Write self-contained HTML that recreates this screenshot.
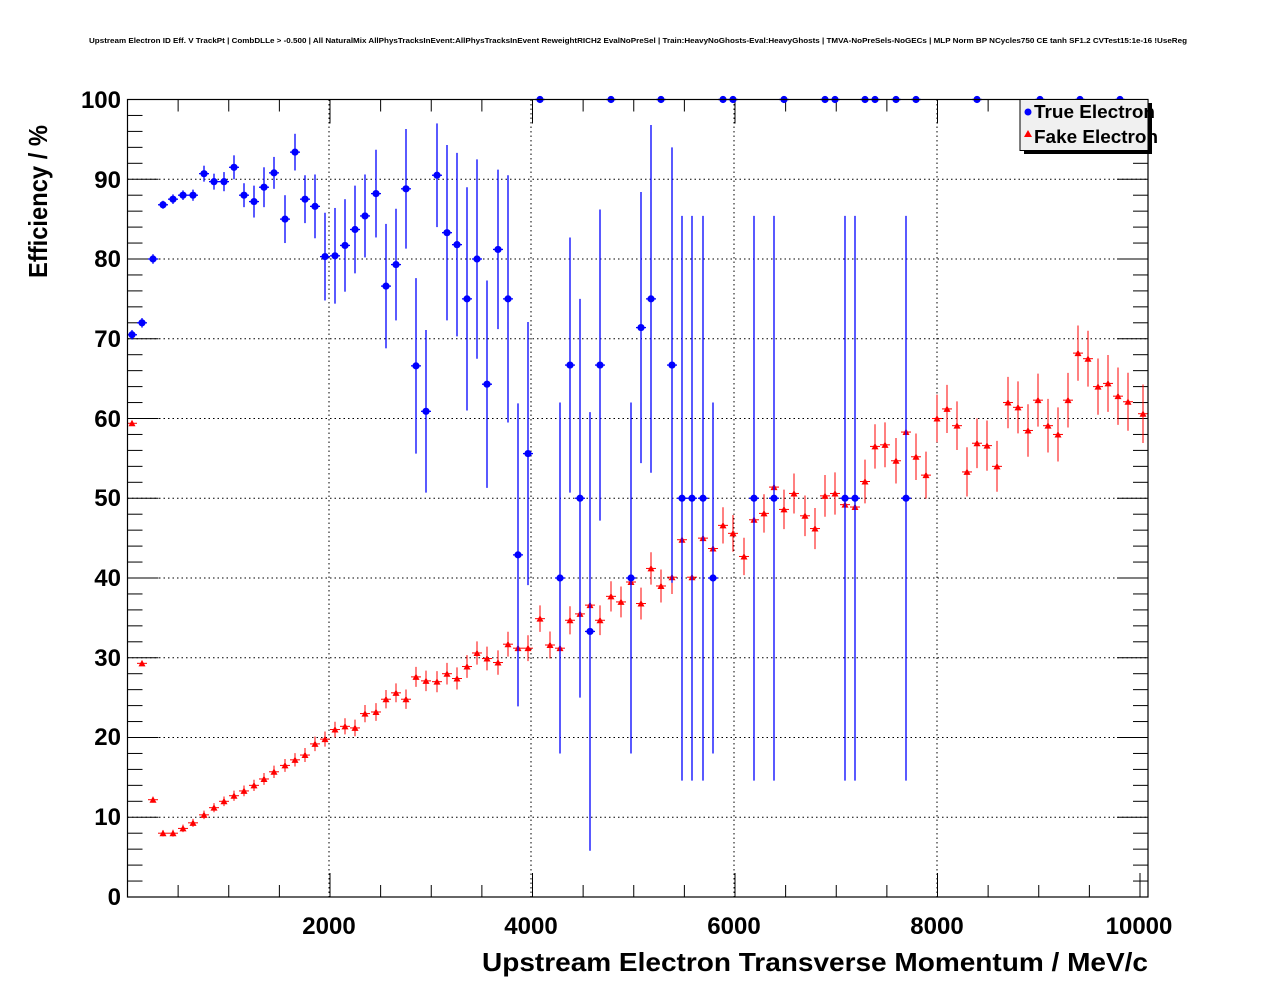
<!DOCTYPE html>
<html><head><meta charset="utf-8"><style>
html,body{margin:0;padding:0;background:#fff;}
svg{display:block;font-family:"Liberation Sans",sans-serif;}
</style></head><body>
<svg id="s" width="1276" height="996" xmlns="http://www.w3.org/2000/svg">
<rect width="1276" height="996" fill="#fff"/>
<text x="89" y="43" font-size="7.5" font-weight="bold" textLength="1098" lengthAdjust="spacingAndGlyphs">Upstream Electron ID Eff. V TrackPt | CombDLLe &gt; -0.500 | All NaturalMix AllPhysTracksInEvent:AllPhysTracksInEvent ReweightRICH2 EvalNoPreSel | Train:HeavyNoGhosts-Eval:HeavyGhosts | TMVA-NoPreSels-NoGECs | MLP Norm BP NCycles750 CE tanh SF1.2 CVTest15:1e-16 !UseReg</text>
<g id="grid"></g>
<g id="data"></g>
<rect x="127.5" y="99.5" width="1020.5" height="797.5" fill="none" stroke="#000" stroke-width="1.2"/>
<g font-size="24" font-weight="bold">
<text x="121" y="108" text-anchor="end">100</text>
<text x="121" y="188" text-anchor="end">90</text>
<text x="121" y="267" text-anchor="end">80</text>
<text x="121" y="347" text-anchor="end">70</text>
<text x="121" y="427" text-anchor="end">60</text>
<text x="121" y="506" text-anchor="end">50</text>
<text x="121" y="586" text-anchor="end">40</text>
<text x="121" y="666" text-anchor="end">30</text>
<text x="121" y="745" text-anchor="end">20</text>
<text x="121" y="825" text-anchor="end">10</text>
<text x="121" y="905" text-anchor="end">0</text>
<text x="329" y="934" text-anchor="middle">2000</text>
<text x="531" y="934" text-anchor="middle">4000</text>
<text x="734" y="934" text-anchor="middle">6000</text>
<text x="937" y="934" text-anchor="middle">8000</text>
<text x="1139" y="934" text-anchor="middle">10000</text>
</g>
<text x="482" y="971" font-size="26" font-weight="bold" textLength="666" lengthAdjust="spacingAndGlyphs">Upstream Electron Transverse Momentum / MeV/c</text>
<text transform="translate(47,278) rotate(-90)" font-size="26" font-weight="bold" textLength="153" lengthAdjust="spacingAndGlyphs">Efficiency / %</text>
<rect x="1024" y="103" width="128" height="51" fill="#000"/>
<rect x="1020" y="99.5" width="128" height="51" fill="#f0f0f0" stroke="#000" stroke-width="1"/>
<circle cx="1028" cy="112" r="3.5" fill="#00f"/>
<polygon points="1028,130 1024,137 1032,137" fill="#f00"/>
<text x="1034" y="118" font-size="18" font-weight="bold" textLength="121" lengthAdjust="spacingAndGlyphs">True Electron</text>
<text x="1034" y="143" font-size="18" font-weight="bold" textLength="124" lengthAdjust="spacingAndGlyphs">Fake Electron</text>
</svg>
<script>
var NS="http://www.w3.org/2000/svg";
function Y(v){return 897-v*7.975;}
function el(p,t,a){var e=document.createElementNS(NS,t);for(var k in a)e.setAttribute(k,a[k]);p.appendChild(e);return e;}
var g=document.getElementById('grid');
[329,531,734,937].forEach(function(x){el(g,'line',{x1:x,x2:x,y1:99.5,y2:897,stroke:'#000','stroke-width':1,'stroke-dasharray':'1.5,3'});});
for(var v=10;v<100;v+=10)el(g,'line',{x1:127.5,x2:1148,y1:Y(v),y2:Y(v),stroke:'#000','stroke-width':1,'stroke-dasharray':'1.5,3'});
for(var v=0;v<=100;v+=2){var L=(v%10==0)?31:15;el(g,'line',{x1:127.5,x2:127.5+L,y1:Y(v),y2:Y(v),stroke:'#000','stroke-width':1});
el(g,'line',{x1:1148,x2:1148-L,y1:Y(v),y2:Y(v),stroke:'#000','stroke-width':1});}
for(var m=0;m<=10000;m+=500){var x=127.5+m*0.10125;var L=(m%2000==0)?24:12;
el(g,'line',{x1:x,x2:x,y1:897,y2:897-L,stroke:'#000','stroke-width':1});
el(g,'line',{x1:x,x2:x,y1:99.5,y2:99.5+L,stroke:'#000','stroke-width':1});}
var d=document.getElementById('data');
var blue=[[132,70.5,.6],[142,72,.6],[153,80,.6],[163,86.8,.5],[173,87.5,.6],[183,88,.6],[193,88,.7],[204,90.7,1],[214,89.7,1],[224,89.7,1.2],[234,91.5,1.5],[244,88,1.5],[254,87.2,2],[264,89,2.5],[274,90.8,2],[285,85,3],[295,93.4,2.3],[305,87.5,3],[315,86.6,4],[325,80.3,5.5],[335,80.4,6],[345,81.7,5.8],[355,83.7,5.5],[365,85.4,5.2],[376,88.2,5.5],[386,76.6,7.8],[396,79.3,7],[406,88.8,7.5],[416,66.6,11],[426,60.9,10.2],[437,90.5,6.5],[447,83.3,11],[457,81.8,11.5],[467,75,14],[477,80,12.5],[487,64.3,13],[498,81.2,10],[508,75,15.5],[518,42.9,19],[528,55.6,16.5],[540,100,0],[560,40,22],[570,66.7,16],[580,50,25],[590,33.3,27.5],[600,66.7,19.5],[611,100,0],[631,40,22],[641,71.4,17],[651,75,21.8],[661,100,0],[672,66.7,27.3],[682,50,35.4],[692,50,35.4],[703,50,35.4],[713,40,22],[723,100,0],[733,100,0],[754,50,35.4],[774,50,35.4],[784,100,0],[825,100,0],[835,100,0],[845,50,35.4],[855,50,35.4],[865,100,0],[875,100,0],[896,100,0],[906,50,35.4],[916,100,0],[977,100,0],[1040,100,0],[1080,100,0],[1120,100,0]];
var red=[[132,59.4],[142,29.3],[153,12.2],[163,8],[173,8],[183,8.6],[193,9.3],[204,10.3],[214,11.2],[224,12],[234,12.7],[244,13.3],[254,14],[264,14.8],[274,15.7],[285,16.5],[295,17.2],[305,17.8],[315,19.2],[325,19.8],[335,21],[345,21.4],[355,21.2],[365,23],[376,23.2],[386,24.8],[396,25.6],[406,24.8],[416,27.6],[426,27.1],[437,27],[447,28],[457,27.4],[467,28.9],[477,30.6],[487,29.9],[498,29.4],[508,31.7],[518,31.2],[528,31.2],[540,34.9],[550,31.6],[560,31.2],[570,34.7],[580,35.5],[590,36.6],[600,34.7],[611,37.7],[621,37],[631,39.5],[641,36.8],[651,41.2],[661,39],[672,40.1],[682,44.8],[692,40.1],[703,45],[713,43.7],[723,46.6],[733,45.6],[744,42.7],[754,47.3],[764,48.1],[774,51.4],[784,48.6],[794,50.6],[805,47.8],[815,46.2],[825,50.3],[835,50.6],[845,49.2],[855,48.9],[865,52.1],[875,56.5],[885,56.7],[896,54.7],[906,58.3],[916,55.2],[926,52.9],[937,60],[947,61.2],[957,59.1],[967,53.3],[977,56.9],[987,56.6],[997,54],[1008,62],[1018,61.4],[1028,58.5],[1038,62.3],[1048,59.1],[1058,58],[1068,62.3],[1078,68.2],[1088,67.5],[1098,64],[1108,64.4],[1118,62.8],[1128,62.1],[1143,60.6]];
red.forEach(function(p,i){var x=p[0],y=Y(p[1]),e=(0.3+i*0.034)*7.975;
el(d,'line',{x1:x,x2:x,y1:y-e,y2:y+e,stroke:'#f00','stroke-width':1});
el(d,'line',{x1:x-5,x2:x+5,y1:y,y2:y,stroke:'#f00','stroke-width':1});
el(d,'polygon',{points:(x)+','+(y-3.5)+' '+(x-3.5)+','+(y+3)+' '+(x+3.5)+','+(y+3),fill:'#f00'});});
blue.forEach(function(p){var x=p[0],y=Y(p[1]),e=p[2]*7.975;
if(e>0)el(d,'line',{x1:x,x2:x,y1:y-e,y2:y+Math.min(e,897-y),stroke:'#00f','stroke-width':1.3});
el(d,'line',{x1:x-5,x2:x+5,y1:y,y2:y,stroke:'#00f','stroke-width':1.3});
el(d,'circle',{cx:x,cy:y,r:3.6,fill:'#00f'});});
</script>
</body></html>
